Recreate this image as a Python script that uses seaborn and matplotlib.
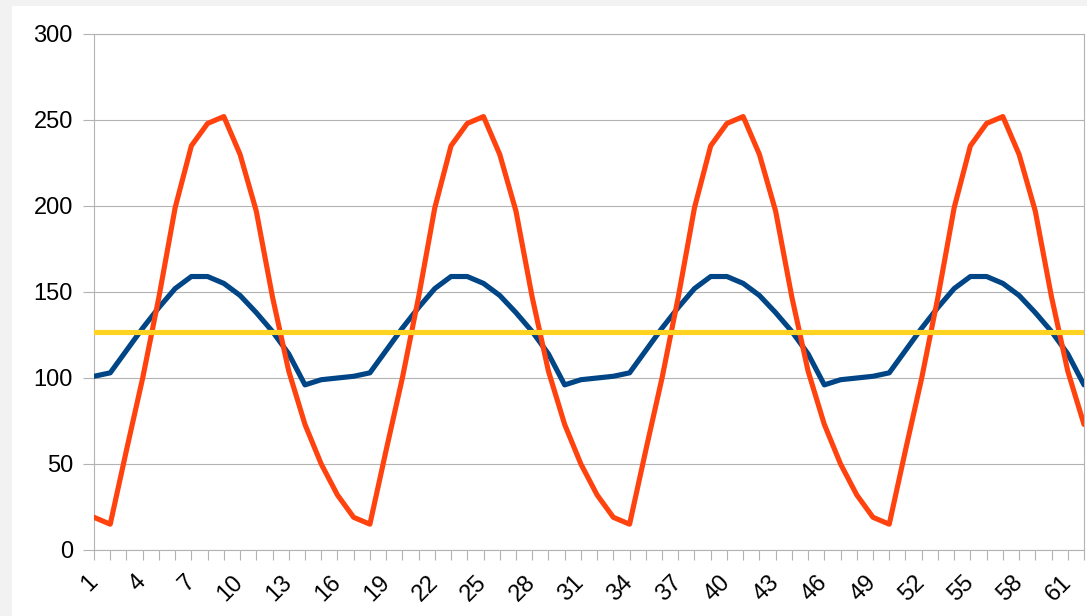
import matplotlib
matplotlib.use("Agg")
import matplotlib.pyplot as plt
from matplotlib.patches import Rectangle
import seaborn as sns
import pandas as pd

# ---- data ----
categories = list(range(1, 63))

series_blue = [101, 103, 116, 129, 141, 152, 159, 159, 155, 148, 138, 127, 114, 96, 99, 100,
               101, 103, 116, 129, 141, 152, 159, 159, 155, 148, 138, 127, 114, 96, 99, 100,
               101, 103, 116, 129, 141, 152, 159, 159, 155, 148, 138, 127, 114, 96, 99, 100,
               101, 103, 116, 129, 141, 152, 159, 159, 155, 148, 138, 127, 114, 96]

series_red = [19, 15, 58, 100, 147, 199, 235, 248, 252, 230, 197, 147, 104, 73, 50, 32,
              19, 15, 58, 100, 147, 199, 235, 248, 252, 230, 197, 147, 104, 73, 50, 32,
              19, 15, 58, 100, 147, 199, 235, 248, 252, 230, 197, 147, 104, 73, 50, 32,
              19, 15, 58, 100, 147, 199, 235, 248, 252, 230, 197, 147, 104, 73]

series_yellow = [127] * 62

y_ticks = [0, 50, 100, 150, 200, 250, 300]
x_tick_labels = [str(c) if (c - 1) % 3 == 0 else "" for c in categories]

df = pd.DataFrame({"x": categories, "blue": series_blue, "red": series_red,
                   "yellow": series_yellow})

# ---- style ----
sns.set_style("white")
plt.rcParams["font.family"] = ["Liberation Sans", "DejaVu Sans"]

W, H = 1087, 616
fig = plt.figure(figsize=(W / 100, H / 100), dpi=100)
fig.patch.set_facecolor("#f2f2f2")
fig.add_artist(Rectangle((12 / W, 0), 1 - 12 / W, 1 - 6 / H, transform=fig.transFigure,
                         facecolor="white", edgecolor="none", zorder=0))

ax = fig.add_axes([94 / W, 66 / H, 990 / W, 516 / H])
ax.set_facecolor("white")

lw = 3.7
sns.lineplot(data=df, x="x", y="blue", ax=ax, color="#004586", linewidth=lw, zorder=3)
sns.lineplot(data=df, x="x", y="red", ax=ax, color="#ff420e", linewidth=lw, zorder=4)
sns.lineplot(data=df, x="x", y="yellow", ax=ax, color="#ffd320", linewidth=lw, zorder=5)

ax.set_xlim(1, 62)
ax.set_ylim(0, 300)
ax.set_xlabel("")
ax.set_ylabel("")

grid_c = "#b3b3b3"
ax.set_yticks(y_ticks)
ax.set_yticklabels([str(v) for v in y_ticks])
ax.set_xticks(categories)
ax.set_xticklabels(x_tick_labels)

ax.yaxis.grid(True, color=grid_c, linewidth=0.8)
ax.xaxis.grid(False)
ax.set_axisbelow(True)

for s in ax.spines.values():
    s.set_visible(True)
    s.set_color(grid_c)
    s.set_linewidth(0.8)

ax.tick_params(axis="x", direction="out", length=7.2, width=0.8, color=grid_c,
               pad=13.5, labelsize=17, labelcolor="black", bottom=True)
ax.tick_params(axis="y", direction="out", length=8, width=0.8, color=grid_c,
               pad=7.2, labelsize=17, labelcolor="black", left=True)

for lbl in ax.get_xticklabels():
    lbl.set_rotation(45)
    lbl.set_ha("right")
    lbl.set_va("center")
    lbl.set_rotation_mode("anchor")

fig.savefig("out.png", dpi=100, facecolor=fig.get_facecolor())
